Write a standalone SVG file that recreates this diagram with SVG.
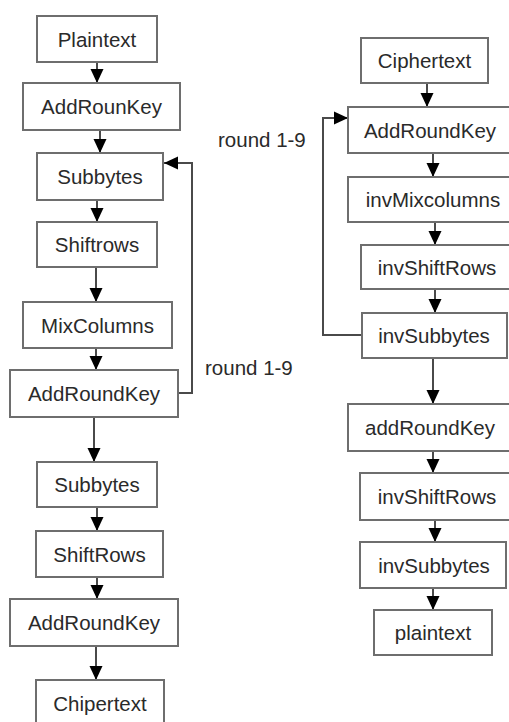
<svg xmlns="http://www.w3.org/2000/svg" width="509" height="722" viewBox="0 0 509 722">
<style>
.box{fill:#fff;stroke:#6e6e6e;stroke-width:2}
.t{font-family:"Liberation Sans",Arial,sans-serif;font-size:20.5px;fill:#2a2a2a;text-anchor:middle}
.l{font-family:"Liberation Sans",Arial,sans-serif;font-size:20.5px;fill:#2a2a2a}
.c{fill:none;stroke:#4a4a4a;stroke-width:2}
</style>
<defs>
<marker id="ah" markerUnits="userSpaceOnUse" markerWidth="16" markerHeight="14" viewBox="0 0 16 14" refX="14" refY="7" orient="auto">
<path d="M0,0.5 L14,7 L0,13.5 Z" fill="#000"/>
</marker>
</defs>
<rect width="509" height="722" fill="#fff"/>
<g id="connectors">
<line class="c" x1="97" y1="62" x2="97" y2="83" marker-end="url(#ah)"/>
<line class="c" x1="100" y1="130" x2="100" y2="153" marker-end="url(#ah)"/>
<line class="c" x1="97" y1="200" x2="97" y2="222" marker-end="url(#ah)"/>
<line class="c" x1="96" y1="267" x2="96" y2="302" marker-end="url(#ah)"/>
<line class="c" x1="96" y1="348" x2="96" y2="370" marker-end="url(#ah)"/>
<line class="c" x1="94" y1="417" x2="94" y2="462" marker-end="url(#ah)"/>
<line class="c" x1="97" y1="507" x2="97" y2="531" marker-end="url(#ah)"/>
<line class="c" x1="97" y1="577" x2="97" y2="599" marker-end="url(#ah)"/>
<line class="c" x1="96" y1="646" x2="96" y2="680" marker-end="url(#ah)"/>
<polyline class="c" points="178,393 192,393 192,163 164,163" marker-end="url(#ah)"/>
<line class="c" x1="427" y1="83" x2="427" y2="107" marker-end="url(#ah)"/>
<line class="c" x1="433" y1="153" x2="433" y2="177" marker-end="url(#ah)"/>
<line class="c" x1="435" y1="222" x2="435" y2="245" marker-end="url(#ah)"/>
<line class="c" x1="435" y1="289" x2="435" y2="313" marker-end="url(#ah)"/>
<line class="c" x1="433" y1="358" x2="433" y2="404" marker-end="url(#ah)"/>
<line class="c" x1="433" y1="451" x2="433" y2="473" marker-end="url(#ah)"/>
<line class="c" x1="435" y1="520" x2="435" y2="542" marker-end="url(#ah)"/>
<line class="c" x1="433" y1="588" x2="433" y2="610" marker-end="url(#ah)"/>
<polyline class="c" points="362,335 323,335 323,118 348,118" marker-end="url(#ah)"/>
</g>
<g id="label-left"><text class="l" x="205" y="375">round 1-9</text></g>
<g id="label-right"><text class="l" x="218" y="147">round 1-9</text></g>
<g id="n1"><rect class="box" x="37" y="16" width="120" height="46"/><text class="t" x="97" y="46.5">Plaintext</text></g>
<g id="n2"><rect class="box" x="23" y="83" width="157" height="47"/><text class="t" x="101.5" y="114">AddRounKey</text></g>
<g id="n3"><rect class="box" x="37" y="153" width="126" height="47"/><text class="t" x="100" y="184">Subbytes</text></g>
<g id="n4"><rect class="box" x="37" y="222" width="120" height="45"/><text class="t" x="97" y="252">Shiftrows</text></g>
<g id="n5"><rect class="box" x="23" y="302" width="149" height="46"/><text class="t" x="97.5" y="332.5">MixColumns</text></g>
<g id="n6"><rect class="box" x="10" y="370" width="168" height="47"/><text class="t" x="94" y="401">AddRoundKey</text></g>
<g id="n7"><rect class="box" x="37" y="462" width="120" height="45"/><text class="t" x="97" y="492">Subbytes</text></g>
<g id="n8"><rect class="box" x="36" y="531" width="127" height="46"/><text class="t" x="99.5" y="561.5">ShiftRows</text></g>
<g id="n9"><rect class="box" x="10" y="599" width="168" height="47"/><text class="t" x="94" y="630">AddRoundKey</text></g>
<g id="n10"><rect class="box" x="36" y="680" width="128" height="46"/><text class="t" x="100" y="710.5">Chipertext</text></g>
<g id="r1"><rect class="box" x="361" y="38" width="127" height="45"/><text class="t" x="424.5" y="68">Ciphertext</text></g>
<g id="r2"><rect class="box" x="348" y="107" width="170" height="46"/><text class="t" x="430" y="137.5">AddRoundKey</text></g>
<g id="r3"><rect class="box" x="348" y="177" width="170" height="45"/><text class="t" x="433" y="207">invMixcolumns</text></g>
<g id="r4"><rect class="box" x="361" y="245" width="160" height="44"/><text class="t" x="437" y="274.5">invShiftRows</text></g>
<g id="r5"><rect class="box" x="362" y="313" width="145" height="45"/><text class="t" x="434" y="343">invSubbytes</text></g>
<g id="r6"><rect class="box" x="348" y="404" width="170" height="47"/><text class="t" x="430" y="435">addRoundKey</text></g>
<g id="r7"><rect class="box" x="360" y="473" width="160" height="47"/><text class="t" x="437" y="504">invShiftRows</text></g>
<g id="r8"><rect class="box" x="360" y="542" width="146" height="46"/><text class="t" x="434" y="572.5">invSubbytes</text></g>
<g id="r9"><rect class="box" x="374" y="610" width="118" height="45"/><text class="t" x="433" y="640">plaintext</text></g>
</svg>
